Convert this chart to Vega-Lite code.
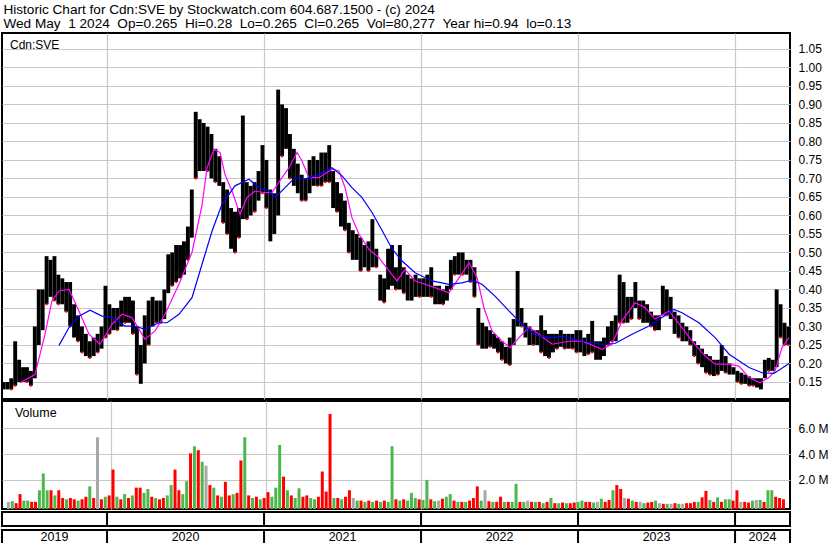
{
"$schema":"https://vega.github.io/schema/vega-lite/v6.json",
"padding":{"left":0,"top":2,"right":2,"bottom":0},
"background":"#ffffff",
"title":{"text":["Historic Chart for Cdn:SVE by Stockwatch.com 604.687.1500 - (c) 2024","Wed May\u00a0 1 2024\u00a0 Op=0.265\u00a0 Hi=0.28\u00a0 Lo=0.265\u00a0 Cl=0.265\u00a0 Vol=80,277\u00a0 Year hi=0.94\u00a0 lo=0.13"],"anchor":"start","frame":"bounds","dx":3,"fontSize":13.6,"font":"Liberation Sans","fontWeight":"normal","lineHeight":14.5,"offset":1,"color":"#000000","baseline":"top"},
"datasets":{
"p":[
{"t":2019.34,"h":0.15,"l":0.13,"v":0.3,"c":"n"},{"t":2019.365,"h":0.15,"l":0.13,"v":0.35,"c":"u"},{"t":2019.39,"h":0.16,"l":0.13,"v":0.2,"c":"d"},{"t":2019.415,"h":0.26,"l":0.14,"v":0.9,"c":"d"},{"t":2019.44,"h":0.21,"l":0.15,"v":0.4,"c":"u"},{"t":2019.465,"h":0.19,"l":0.15,"v":0.4,"c":"u"},{"t":2019.49,"h":0.19,"l":0.15,"v":0.3,"c":"d"},{"t":2019.515,"h":0.18,"l":0.14,"v":0.3,"c":"d"},{"t":2019.54,"h":0.30,"l":0.16,"v":1.2,"c":"u"},{"t":2019.565,"h":0.40,"l":0.25,"v":2.5,"c":"u"},
{"t":2019.59,"h":0.40,"l":0.29,"v":1.2,"c":"u"},{"t":2019.615,"h":0.49,"l":0.36,"v":1.2,"c":"d"},{"t":2019.64,"h":0.48,"l":0.38,"v":0.8,"c":"u"},{"t":2019.665,"h":0.49,"l":0.37,"v":1.2,"c":"d"},{"t":2019.69,"h":0.44,"l":0.36,"v":0.6,"c":"d"},{"t":2019.715,"h":0.43,"l":0.36,"v":0.5,"c":"u"},{"t":2019.74,"h":0.42,"l":0.34,"v":0.6,"c":"d"},{"t":2019.765,"h":0.42,"l":0.30,"v":0.5,"c":"d"},{"t":2019.79,"h":0.36,"l":0.27,"v":0.4,"c":"u"},{"t":2019.815,"h":0.33,"l":0.26,"v":0.5,"c":"d"},
{"t":2019.84,"h":0.30,"l":0.23,"v":0.7,"c":"d"},{"t":2019.865,"h":0.28,"l":0.22,"v":1.5,"c":"u"},{"t":2019.89,"h":0.26,"l":0.215,"v":0.6,"c":"d"},{"t":2019.915,"h":0.27,"l":0.22,"v":5.3,"c":"n"},{"t":2019.94,"h":0.28,"l":0.23,"v":0.5,"c":"d"},{"t":2019.965,"h":0.30,"l":0.24,"v":0.7,"c":"u"},{"t":2019.99,"h":0.41,"l":0.27,"v":0.8,"c":"d"},{"t":2020.015,"h":0.36,"l":0.28,"v":2.8,"c":"d"},{"t":2020.04,"h":0.35,"l":0.29,"v":0.7,"c":"u"},{"t":2020.065,"h":0.35,"l":0.29,"v":0.5,"c":"d"},
{"t":2020.09,"h":0.37,"l":0.30,"v":0.9,"c":"u"},{"t":2020.115,"h":0.38,"l":0.31,"v":0.6,"c":"d"},{"t":2020.14,"h":0.38,"l":0.31,"v":0.8,"c":"u"},{"t":2020.165,"h":0.37,"l":0.28,"v":1.4,"c":"d"},{"t":2020.19,"h":0.30,"l":0.17,"v":1.4,"c":"d"},{"t":2020.215,"h":0.25,"l":0.145,"v":1.0,"c":"u"},{"t":2020.24,"h":0.33,"l":0.20,"v":1.3,"c":"u"},{"t":2020.265,"h":0.37,"l":0.25,"v":0.7,"c":"d"},{"t":2020.29,"h":0.38,"l":0.30,"v":0.6,"c":"u"},{"t":2020.315,"h":0.37,"l":0.31,"v":0.5,"c":"d"},
{"t":2020.34,"h":0.37,"l":0.31,"v":0.6,"c":"d"},{"t":2020.365,"h":0.40,"l":0.32,"v":0.8,"c":"u"},{"t":2020.39,"h":0.495,"l":0.39,"v":1.6,"c":"u"},{"t":2020.415,"h":0.50,"l":0.41,"v":2.8,"c":"d"},{"t":2020.44,"h":0.52,"l":0.42,"v":1.2,"c":"d"},{"t":2020.465,"h":0.52,"l":0.43,"v":0.9,"c":"u"},{"t":2020.49,"h":0.53,"l":0.44,"v":1.9,"c":"u"},{"t":2020.515,"h":0.57,"l":0.48,"v":4.05,"c":"d"},{"t":2020.54,"h":0.67,"l":0.54,"v":4.6,"c":"u"},{"t":2020.565,"h":0.88,"l":0.70,"v":4.3,"c":"d"},
{"t":2020.59,"h":0.86,"l":0.72,"v":3.4,"c":"u"},{"t":2020.615,"h":0.85,"l":0.72,"v":3.1,"c":"n"},{"t":2020.64,"h":0.84,"l":0.72,"v":1.6,"c":"d"},{"t":2020.665,"h":0.82,"l":0.70,"v":1.4,"c":"u"},{"t":2020.69,"h":0.78,"l":0.69,"v":0.8,"c":"d"},{"t":2020.715,"h":0.76,"l":0.68,"v":0.7,"c":"u"},{"t":2020.74,"h":0.69,"l":0.58,"v":1.85,"c":"d"},{"t":2020.765,"h":0.67,"l":0.55,"v":0.8,"c":"d"},{"t":2020.79,"h":0.62,"l":0.51,"v":0.9,"c":"u"},{"t":2020.815,"h":0.61,"l":0.50,"v":1.0,"c":"d"},
{"t":2020.84,"h":0.62,"l":0.54,"v":3.5,"c":"d"},{"t":2020.865,"h":0.87,"l":0.59,"v":5.3,"c":"u"},{"t":2020.89,"h":0.69,"l":0.59,"v":0.8,"c":"d"},{"t":2020.915,"h":0.68,"l":0.60,"v":0.6,"c":"u"},{"t":2020.94,"h":0.69,"l":0.61,"v":0.7,"c":"d"},{"t":2020.965,"h":0.72,"l":0.64,"v":0.5,"c":"u"},{"t":2020.99,"h":0.79,"l":0.66,"v":0.6,"c":"d"},{"t":2021.015,"h":0.75,"l":0.62,"v":1.05,"c":"d"},{"t":2021.04,"h":0.67,"l":0.53,"v":0.7,"c":"u"},{"t":2021.065,"h":0.66,"l":0.55,"v":1.4,"c":"u"},
{"t":2021.09,"h":0.94,"l":0.60,"v":4.7,"c":"u"},{"t":2021.115,"h":0.90,"l":0.76,"v":2.25,"c":"d"},{"t":2021.14,"h":0.89,"l":0.78,"v":1.2,"c":"u"},{"t":2021.165,"h":0.82,"l":0.70,"v":0.8,"c":"d"},{"t":2021.19,"h":0.78,"l":0.68,"v":0.6,"c":"u"},{"t":2021.215,"h":0.74,"l":0.66,"v":1.35,"c":"u"},{"t":2021.24,"h":0.71,"l":0.64,"v":0.7,"c":"d"},{"t":2021.265,"h":0.70,"l":0.64,"v":0.8,"c":"d"},{"t":2021.29,"h":0.75,"l":0.66,"v":0.6,"c":"u"},{"t":2021.315,"h":0.76,"l":0.68,"v":0.5,"c":"u"},
{"t":2021.34,"h":0.75,"l":0.68,"v":0.7,"c":"d"},{"t":2021.365,"h":0.77,"l":0.68,"v":2.65,"c":"d"},{"t":2021.39,"h":0.77,"l":0.69,"v":1.1,"c":"d"},{"t":2021.415,"h":0.79,"l":0.69,"v":7.1,"c":"d"},{"t":2021.44,"h":0.72,"l":0.62,"v":0.6,"c":"u"},{"t":2021.465,"h":0.69,"l":0.61,"v":0.6,"c":"d"},{"t":2021.49,"h":0.66,"l":0.57,"v":0.5,"c":"u"},{"t":2021.515,"h":0.64,"l":0.56,"v":0.7,"c":"d"},{"t":2021.54,"h":0.58,"l":0.50,"v":1.2,"c":"d"},{"t":2021.565,"h":0.56,"l":0.48,"v":0.6,"c":"n"},
{"t":2021.59,"h":0.55,"l":0.48,"v":0.4,"c":"u"},{"t":2021.615,"h":0.54,"l":0.45,"v":0.4,"c":"d"},{"t":2021.64,"h":0.52,"l":0.46,"v":0.3,"c":"u"},{"t":2021.665,"h":0.53,"l":0.45,"v":0.4,"c":"d"},{"t":2021.69,"h":0.59,"l":0.46,"v":0.3,"c":"u"},{"t":2021.715,"h":0.51,"l":0.46,"v":0.4,"c":"d"},{"t":2021.74,"h":0.44,"l":0.37,"v":0.3,"c":"u"},{"t":2021.765,"h":0.43,"l":0.365,"v":0.4,"c":"d"},{"t":2021.79,"h":0.51,"l":0.40,"v":0.3,"c":"u"},{"t":2021.815,"h":0.52,"l":0.41,"v":4.6,"c":"u"},
{"t":2021.84,"h":0.46,"l":0.40,"v":0.5,"c":"d"},{"t":2021.865,"h":0.52,"l":0.40,"v":0.4,"c":"u"},{"t":2021.89,"h":0.46,"l":0.39,"v":0.5,"c":"d"},{"t":2021.915,"h":0.44,"l":0.37,"v":0.4,"c":"u"},{"t":2021.94,"h":0.43,"l":0.37,"v":1.0,"c":"u"},{"t":2021.965,"h":0.44,"l":0.38,"v":0.6,"c":"u"},{"t":2021.99,"h":0.43,"l":0.38,"v":0.5,"c":"d"},{"t":2022.015,"h":0.43,"l":0.38,"v":0.45,"c":"u"},{"t":2022.04,"h":0.44,"l":0.38,"v":2.0,"c":"u"},{"t":2022.065,"h":0.46,"l":0.38,"v":0.5,"c":"d"},
{"t":2022.09,"h":0.41,"l":0.36,"v":0.35,"c":"u"},{"t":2022.115,"h":0.41,"l":0.36,"v":0.4,"c":"n"},{"t":2022.14,"h":0.40,"l":0.36,"v":0.55,"c":"d"},{"t":2022.165,"h":0.41,"l":0.37,"v":0.7,"c":"u"},{"t":2022.19,"h":0.48,"l":0.40,"v":0.9,"c":"u"},{"t":2022.215,"h":0.49,"l":0.44,"v":0.4,"c":"d"},{"t":2022.24,"h":0.50,"l":0.44,"v":0.3,"c":"u"},{"t":2022.265,"h":0.50,"l":0.44,"v":0.3,"c":"d"},{"t":2022.29,"h":0.48,"l":0.44,"v":0.3,"c":"u"},{"t":2022.315,"h":0.48,"l":0.42,"v":0.4,"c":"d"},
{"t":2022.34,"h":0.46,"l":0.38,"v":0.6,"c":"d"},{"t":2022.365,"h":0.35,"l":0.25,"v":1.5,"c":"d"},{"t":2022.39,"h":0.31,"l":0.24,"v":0.4,"c":"u"},{"t":2022.415,"h":0.30,"l":0.24,"v":1.2,"c":"n"},{"t":2022.44,"h":0.29,"l":0.245,"v":0.35,"c":"d"},{"t":2022.465,"h":0.28,"l":0.24,"v":0.3,"c":"u"},{"t":2022.49,"h":0.27,"l":0.23,"v":0.3,"c":"d"},{"t":2022.515,"h":0.26,"l":0.21,"v":0.7,"c":"d"},{"t":2022.54,"h":0.245,"l":0.20,"v":0.3,"c":"u"},{"t":2022.565,"h":0.27,"l":0.196,"v":0.3,"c":"d"},
{"t":2022.59,"h":0.32,"l":0.25,"v":0.3,"c":"u"},{"t":2022.615,"h":0.45,"l":0.30,"v":1.7,"c":"u"},{"t":2022.64,"h":0.35,"l":0.30,"v":0.3,"c":"d"},{"t":2022.665,"h":0.31,"l":0.27,"v":0.3,"c":"u"},{"t":2022.69,"h":0.30,"l":0.25,"v":0.4,"c":"n"},{"t":2022.715,"h":0.29,"l":0.25,"v":0.3,"c":"d"},{"t":2022.74,"h":0.29,"l":0.25,"v":0.3,"c":"u"},{"t":2022.765,"h":0.33,"l":0.23,"v":0.3,"c":"d"},{"t":2022.79,"h":0.29,"l":0.22,"v":0.2,"c":"u"},{"t":2022.815,"h":0.28,"l":0.215,"v":0.3,"c":"d"},
{"t":2022.84,"h":0.28,"l":0.23,"v":0.6,"c":"u"},{"t":2022.865,"h":0.28,"l":0.24,"v":0.2,"c":"d"},{"t":2022.89,"h":0.29,"l":0.245,"v":0.2,"c":"u"},{"t":2022.915,"h":0.28,"l":0.24,"v":0.25,"c":"d"},{"t":2022.94,"h":0.28,"l":0.24,"v":0.2,"c":"u"},{"t":2022.965,"h":0.28,"l":0.24,"v":0.2,"c":"d"},{"t":2022.99,"h":0.29,"l":0.23,"v":0.25,"c":"d"},{"t":2023.015,"h":0.29,"l":0.23,"v":0.3,"c":"u"},{"t":2023.04,"h":0.27,"l":0.22,"v":0.4,"c":"u"},{"t":2023.065,"h":0.28,"l":0.225,"v":0.3,"c":"d"},
{"t":2023.09,"h":0.315,"l":0.23,"v":0.3,"c":"d"},{"t":2023.115,"h":0.26,"l":0.21,"v":0.25,"c":"u"},{"t":2023.14,"h":0.26,"l":0.21,"v":0.3,"c":"n"},{"t":2023.165,"h":0.27,"l":0.22,"v":0.55,"c":"u"},{"t":2023.19,"h":0.30,"l":0.25,"v":0.3,"c":"d"},{"t":2023.215,"h":0.315,"l":0.26,"v":0.45,"c":"d"},{"t":2023.24,"h":0.33,"l":0.26,"v":1.2,"c":"u"},{"t":2023.265,"h":0.44,"l":0.31,"v":1.6,"c":"d"},{"t":2023.29,"h":0.42,"l":0.31,"v":1.3,"c":"d"},{"t":2023.315,"h":0.38,"l":0.31,"v":0.6,"c":"n"},
{"t":2023.34,"h":0.38,"l":0.32,"v":0.55,"c":"d"},{"t":2023.365,"h":0.42,"l":0.35,"v":0.4,"c":"u"},{"t":2023.39,"h":0.37,"l":0.32,"v":0.3,"c":"d"},{"t":2023.415,"h":0.37,"l":0.31,"v":0.3,"c":"n"},{"t":2023.44,"h":0.36,"l":0.31,"v":0.2,"c":"u"},{"t":2023.465,"h":0.34,"l":0.30,"v":0.25,"c":"d"},{"t":2023.49,"h":0.33,"l":0.29,"v":0.3,"c":"d"},{"t":2023.515,"h":0.33,"l":0.29,"v":0.4,"c":"u"},{"t":2023.54,"h":0.41,"l":0.33,"v":0.2,"c":"n"},{"t":2023.565,"h":0.40,"l":0.33,"v":0.15,"c":"d"},
{"t":2023.59,"h":0.38,"l":0.32,"v":0.15,"c":"u"},{"t":2023.615,"h":0.34,"l":0.28,"v":0.15,"c":"n"},{"t":2023.64,"h":0.33,"l":0.27,"v":0.2,"c":"d"},{"t":2023.665,"h":0.31,"l":0.26,"v":0.15,"c":"u"},{"t":2023.69,"h":0.30,"l":0.26,"v":0.15,"c":"n"},{"t":2023.715,"h":0.29,"l":0.25,"v":0.2,"c":"d"},{"t":2023.74,"h":0.26,"l":0.22,"v":0.2,"c":"d"},{"t":2023.765,"h":0.25,"l":0.20,"v":0.3,"c":"d"},{"t":2023.79,"h":0.24,"l":0.19,"v":0.3,"c":"u"},{"t":2023.815,"h":0.225,"l":0.175,"v":0.65,"c":"d"},
{"t":2023.84,"h":0.22,"l":0.17,"v":1.15,"c":"d"},{"t":2023.865,"h":0.21,"l":0.166,"v":0.45,"c":"u"},{"t":2023.89,"h":0.21,"l":0.17,"v":0.3,"c":"d"},{"t":2023.915,"h":0.25,"l":0.18,"v":0.65,"c":"u"},{"t":2023.94,"h":0.22,"l":0.175,"v":0.3,"c":"d"},{"t":2023.965,"h":0.20,"l":0.17,"v":0.5,"c":"u"},{"t":2023.99,"h":0.19,"l":0.17,"v":0.5,"c":"u"},{"t":2024.015,"h":0.18,"l":0.15,"v":0.4,"c":"d"},{"t":2024.04,"h":0.175,"l":0.145,"v":1.2,"c":"d"},{"t":2024.065,"h":0.17,"l":0.145,"v":0.3,"c":"n"},
{"t":2024.09,"h":0.165,"l":0.14,"v":0.3,"c":"d"},{"t":2024.115,"h":0.16,"l":0.14,"v":0.25,"c":"d"},{"t":2024.14,"h":0.16,"l":0.135,"v":0.4,"c":"u"},{"t":2024.165,"h":0.16,"l":0.13,"v":0.45,"c":"n"},{"t":2024.19,"h":0.21,"l":0.16,"v":0.45,"c":"u"},{"t":2024.215,"h":0.215,"l":0.18,"v":0.3,"c":"d"},{"t":2024.24,"h":0.21,"l":0.18,"v":1.2,"c":"u"},{"t":2024.265,"h":0.40,"l":0.19,"v":1.2,"c":"u"},{"t":2024.29,"h":0.36,"l":0.27,"v":0.7,"c":"d"},{"t":2024.315,"h":0.31,"l":0.25,"v":0.6,"c":"d"},
{"t":2024.34,"h":0.30,"l":0.25,"v":0.5,"c":"d"}
],
"m":[
{"t":2019.446,"p":0.148},{"t":2019.541,"p":0.17},{"t":2019.605,"p":0.279},{"t":2019.649,"p":0.369},{"t":2019.694,"p":0.396},{"t":2019.758,"p":0.40},{"t":2019.821,"p":0.342},{"t":2019.885,"p":0.279},{"t":2019.955,"p":0.252},{"t":2020.032,"p":0.306},{"t":2020.095,"p":0.333},{"t":2020.159,"p":0.324},{"t":2020.242,"p":0.265},{"t":2020.306,"p":0.288},{"t":2020.369,"p":0.333},{"t":2020.458,"p":0.414},{"t":2020.541,"p":0.50},{"t":2020.605,"p":0.628},{"t":2020.637,"p":0.729},{"t":2020.681,"p":0.779},{"t":2020.72,"p":0.77},{"t":2020.751,"p":0.711},{"t":2020.796,"p":0.666},{"t":2020.847,"p":0.603},{"t":2020.891,"p":0.648},{"t":2020.942,"p":0.666},{"t":2021.0,"p":0.662},{"t":2021.051,"p":0.662},{"t":2021.114,"p":0.702},{"t":2021.159,"p":0.729},{"t":2021.21,"p":0.77},{"t":2021.242,"p":0.747},{"t":2021.286,"p":0.702},{"t":2021.35,"p":0.702},{"t":2021.433,"p":0.725},{"t":2021.478,"p":0.72},{"t":2021.516,"p":0.675},{"t":2021.56,"p":0.594},{"t":2021.605,"p":0.549},{"t":2021.669,"p":0.508},{"t":2021.732,"p":0.486},{"t":2021.796,"p":0.45},{"t":2021.847,"p":0.423},{"t":2021.898,"p":0.454},{"t":2021.962,"p":0.423},{"t":2022.025,"p":0.414},{"t":2022.089,"p":0.405},{"t":2022.178,"p":0.391},{"t":2022.229,"p":0.423},{"t":2022.306,"p":0.472},{"t":2022.357,"p":0.432},{"t":2022.401,"p":0.35},{"t":2022.452,"p":0.288},{"t":2022.516,"p":0.26},{"t":2022.567,"p":0.243},{"t":2022.624,"p":0.27},{"t":2022.688,"p":0.298},{"t":2022.751,"p":0.279},{"t":2022.834,"p":0.252},{"t":2022.942,"p":0.26},{"t":2023.025,"p":0.261},{"t":2023.153,"p":0.238},{"t":2023.216,"p":0.252},{"t":2023.28,"p":0.315},{"t":2023.363,"p":0.364},{"t":2023.427,"p":0.351},{"t":2023.49,"p":0.32},{"t":2023.579,"p":0.342},{"t":2023.662,"p":0.297},{"t":2023.726,"p":0.261},{"t":2023.809,"p":0.22},{"t":2023.873,"p":0.198},{"t":2023.962,"p":0.198},{"t":2024.025,"p":0.193},{"t":2024.089,"p":0.162},{"t":2024.159,"p":0.148},{"t":2024.216,"p":0.162},{"t":2024.255,"p":0.18},{"t":2024.299,"p":0.243},{"t":2024.344,"p":0.27}
],
"b":[
{"t":2019.694,"p":0.249},{"t":2019.758,"p":0.297},{"t":2019.821,"p":0.328},{"t":2019.892,"p":0.344},{"t":2019.968,"p":0.328},{"t":2020.032,"p":0.324},{"t":2020.114,"p":0.301},{"t":2020.178,"p":0.301},{"t":2020.242,"p":0.292},{"t":2020.331,"p":0.31},{"t":2020.382,"p":0.31},{"t":2020.458,"p":0.333},{"t":2020.541,"p":0.378},{"t":2020.605,"p":0.468},{"t":2020.669,"p":0.558},{"t":2020.732,"p":0.63},{"t":2020.815,"p":0.68},{"t":2020.904,"p":0.698},{"t":2020.968,"p":0.675},{"t":2021.032,"p":0.666},{"t":2021.07,"p":0.648},{"t":2021.134,"p":0.675},{"t":2021.197,"p":0.702},{"t":2021.261,"p":0.698},{"t":2021.35,"p":0.711},{"t":2021.433,"p":0.729},{"t":2021.497,"p":0.707},{"t":2021.56,"p":0.675},{"t":2021.624,"p":0.648},{"t":2021.688,"p":0.608},{"t":2021.751,"p":0.56},{"t":2021.815,"p":0.51},{"t":2021.879,"p":0.477},{"t":2021.962,"p":0.445},{"t":2022.07,"p":0.423},{"t":2022.178,"p":0.414},{"t":2022.261,"p":0.418},{"t":2022.325,"p":0.425},{"t":2022.388,"p":0.414},{"t":2022.471,"p":0.382},{"t":2022.56,"p":0.342},{"t":2022.643,"p":0.306},{"t":2022.726,"p":0.277},{"t":2022.815,"p":0.27},{"t":2022.917,"p":0.274},{"t":2023.006,"p":0.262},{"t":2023.089,"p":0.256},{"t":2023.153,"p":0.252},{"t":2023.235,"p":0.254},{"t":2023.344,"p":0.279},{"t":2023.452,"p":0.301},{"t":2023.535,"p":0.324},{"t":2023.611,"p":0.346},{"t":2023.662,"p":0.337},{"t":2023.77,"p":0.31},{"t":2023.873,"p":0.27},{"t":2023.962,"p":0.225},{"t":2024.089,"p":0.189},{"t":2024.172,"p":0.175},{"t":2024.248,"p":0.173},{"t":2024.344,"p":0.20}
],
"yb":[{"t":2020},{"t":2021},{"t":2022},{"t":2023},{"t":2024}],
"yl":[{"y":"2019","t":2019.665},{"y":"2020","t":2020.5},{"y":"2021","t":2021.5},{"y":"2022","t":2022.5},{"y":"2023","t":2023.5},{"y":"2024","t":2024.175}]
},
"vconcat":[
{"width":788,"height":366,
"layer":[
{"data":{"name":"p"},"mark":{"type":"rule","strokeWidth":3.9,"color":"#000000"},
"encoding":{
"x":{"field":"t","type":"quantitative","scale":{"domain":[2019.331,2024.35],"nice":false,"zero":false},"axis":{"values":[2020,2021,2022,2023,2024],"grid":true,"labels":false,"ticks":false,"domain":false,"title":null,"minExtent":0,"maxExtent":0,"offset":0}},
"y":{"field":"h","type":"quantitative","scale":{"domain":[0.104,1.093],"nice":false,"zero":false},"axis":{"orient":"right","values":[0.15,0.2,0.25,0.3,0.35,0.4,0.45,0.5,0.55,0.6,0.65,0.7,0.75,0.8,0.85,0.9,0.95,1.0,1.05],"tickCount":40,"format":".2f","grid":true,"ticks":false,"domain":false,"title":null,"labelPadding":8,"labelOverlap":false,"labelBound":false}},
"y2":{"field":"l"}}},
{"data":{"name":"p"},"transform":[{"filter":"datum.c == 'd'"}],"mark":{"type":"square","size":4,"color":"#ff0000","opacity":1},
"encoding":{"x":{"field":"t","type":"quantitative"},"y":{"field":"l","type":"quantitative"}}},
{"data":{"name":"m"},"mark":{"type":"line","color":"#ff00ff","strokeWidth":1.2},
"encoding":{"x":{"field":"t","type":"quantitative"},"y":{"field":"p","type":"quantitative"}}},
{"data":{"name":"b"},"mark":{"type":"line","color":"#0000ff","strokeWidth":1.2},
"encoding":{"x":{"field":"t","type":"quantitative"},"y":{"field":"p","type":"quantitative"}}},
{"data":{"values":[{}]},"mark":{"type":"text","align":"left","baseline":"middle","fontSize":12,"font":"Liberation Sans","color":"#000000"},
"encoding":{"x":{"datum":2019.382,"type":"quantitative"},"y":{"datum":1.06,"type":"quantitative"},"text":{"value":"Cdn:SVE"}}}
]},
{"width":788,"height":108,
"layer":[
{"data":{"name":"p"},"mark":{"type":"bar","width":3},
"encoding":{
"x":{"field":"t","type":"quantitative","scale":{"domain":[2019.331,2024.35],"nice":false,"zero":false},"axis":{"values":[2020,2021,2022,2023,2024],"grid":true,"labels":false,"ticks":false,"domain":false,"title":null,"minExtent":0,"maxExtent":0,"offset":0}},
"y":{"field":"v","type":"quantitative","scale":{"domain":[-0.25,8.1],"nice":false,"zero":false},"axis":{"orient":"right","values":[2,4,6],"tickCount":10,"labelExpr":"format(datum.value,'.1f') + ' M'","grid":true,"ticks":false,"domain":false,"title":null,"labelPadding":8,"labelOverlap":false}},
"y2":{"datum":-0.25},
"color":{"field":"c","type":"nominal","scale":{"domain":["u","d","n"],"range":["#4cb84c","#ff0000","#a8a8a8"]},"legend":null}}},
{"data":{"values":[{}]},"mark":{"type":"text","align":"left","baseline":"middle","fontSize":12.5,"font":"Liberation Sans","color":"#000000"},
"encoding":{"x":{"datum":2019.382,"type":"quantitative"},"y":{"datum":7.2,"type":"quantitative"},"text":{"value":"Volume"}}}
]},
{"width":788,"height":14,"data":{"name":"yb"},"mark":{"type":"rule","color":"#000000","strokeWidth":2},
"encoding":{"x":{"field":"t","type":"quantitative","scale":{"domain":[2019.331,2024.35],"nice":false,"zero":false},"axis":null}}},
{"width":788,"height":14,
"layer":[
{"data":{"name":"yb"},"mark":{"type":"rule","color":"#000000","strokeWidth":2},
"encoding":{"x":{"field":"t","type":"quantitative","scale":{"domain":[2019.331,2024.35],"nice":false,"zero":false},"axis":null}}},
{"data":{"name":"yl"},"mark":{"type":"text","fontSize":12.5,"font":"Liberation Sans","color":"#000000","baseline":"middle"},
"encoding":{"x":{"field":"t","type":"quantitative","axis":null},"text":{"field":"y"}}}
]}
],
"spacing":0,
"config":{
"view":{"stroke":"#000000","strokeWidth":2},
"axis":{"labelFont":"Liberation Sans","labelFontSize":12,"labelColor":"#000000","gridColor":"#c8c8c8","gridWidth":1.2},
"text":{"font":"Liberation Sans"}
}
}
